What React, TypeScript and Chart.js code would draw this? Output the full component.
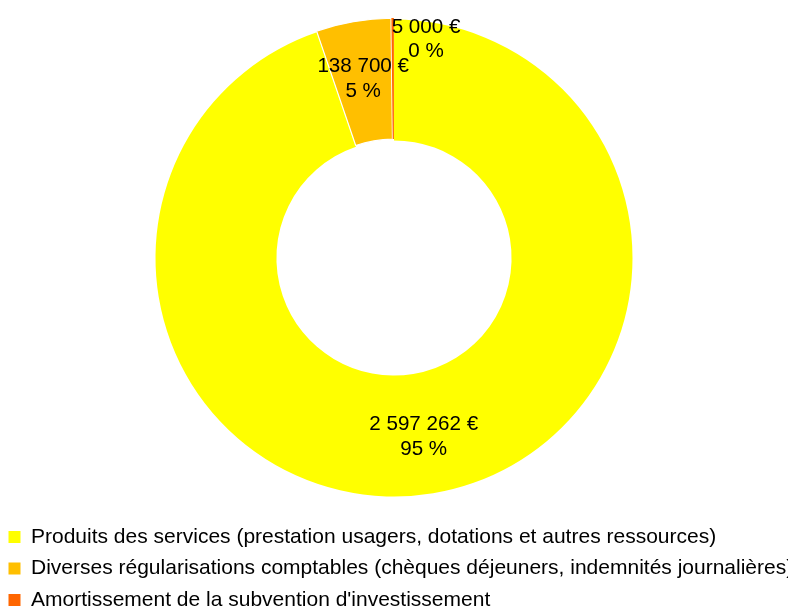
import React, { useEffect, useRef } from "react";
import { Chart, registerables } from "chart.js";

Chart.register(...registerables);

const categories = [
  "Produits des services (prestation usagers, dotations et autres ressources)",
  "Diverses régularisations comptables (chèques déjeuners, indemnités journalières)",
  "Amortissement de la subvention d'investissement",
];
const amounts = [2597262, 138700, 5000];
const colors = ["#FFFF00", "#FFBF00", "#FF6600"];
const explode = [0, 3, 3];

const FONT = "'Liberation Sans', Arial, sans-serif";

function fmtEuro(v: number): string {
  const s = String(Math.round(v));
  return s.replace(/\B(?=(\d{3})+(?!\d))/g, " ") + " €";
}

const labelPlugin = {
  id: "sliceLabels",
  afterDatasetsDraw(chart: any) {
    const ctx = chart.ctx;
    const meta = chart.getDatasetMeta(0);
    const data = chart.data.datasets[0].data as number[];
    const total = data.reduce((a, b) => a + b, 0);
    ctx.save();
    ctx.font = `20.6px ${FONT}`;
    ctx.fillStyle = "#000";
    ctx.textBaseline = "middle";
    const lh = 24.5;
    meta.data.forEach((arc: any, i: number) => {
      const { x, y, startAngle, endAngle, innerRadius, outerRadius } = arc.getProps(
        ["x", "y", "startAngle", "endAngle", "innerRadius", "outerRadius"],
        true
      );
      const frac = data[i] / total;
      const l1 = fmtEuro(data[i]);
      const l2 = Math.round(frac * 100) + " %";
      const a = (startAngle + endAngle) / 2;
      const off = explode[i] || 0;
      if (frac < 0.01) {
        const ax = x + Math.cos(a) * outerRadius - 1;
        const ay = y + Math.sin(a) * (outerRadius + off);
        const w = Math.max(ctx.measureText(l1).width, ctx.measureText(l2).width);
        const bx = ax + w / 2;
        const y1 = ay + 11;
        ctx.textAlign = "center";
        ctx.fillText(l1, bx, y1);
        ctx.fillText(l2, bx, y1 + lh - 1);
      } else {
        const r = (innerRadius + outerRadius) / 2 + 3 + off * 0.2;
        const cx = x + Math.cos(a) * r;
        const cy = y + Math.sin(a) * r;
        ctx.textAlign = "center";
        ctx.fillText(l1, cx, cy - lh / 2);
        ctx.fillText(l2, cx, cy + lh / 2);
      }
    });
    ctx.restore();
  },
};

export default function App() {
  const ref = useRef<HTMLCanvasElement | null>(null);
  useEffect(() => {
    if (!ref.current) return;
    const chart = new Chart(ref.current, {
      type: "doughnut",
      data: {
        labels: categories,
        datasets: [
          {
            data: amounts,
            backgroundColor: colors,
            borderColor: "#FFFFFF",
            borderWidth: [0, 1.2, 0],
            offset: explode,
          } as any,
        ],
      },
      options: {
        responsive: false,
        animation: false,
        events: [],
        cutout: "49.3%",
        radius: 238.5,
        layout: { padding: { left: -2, right: -0.6, top: -7, bottom: -12.5 } },
        plugins: {
          tooltip: { enabled: false },
          legend: {
            position: "bottom",
            align: "start",
            labels: {
              boxWidth: 12,
              boxHeight: 12,
              padding: 10.5,
              color: "#000",
              font: { family: FONT, size: 21 },
              generateLabels: (c: any) => {
                const items = (Chart as any).overrides.doughnut.plugins.legend.labels.generateLabels(c);
                return items.map((it: any) => ({ ...it, lineWidth: 0, strokeStyle: "rgba(0,0,0,0)" }));
              },
            },
          },
        },
      } as any,
      plugins: [labelPlugin],
    });
    return () => chart.destroy();
  }, []);
  return (
    <canvas
      ref={ref}
      width={788}
      height={608}
      style={{ position: "absolute", left: 0, top: 0, width: 788, height: 608 }}
    />
  );
}
